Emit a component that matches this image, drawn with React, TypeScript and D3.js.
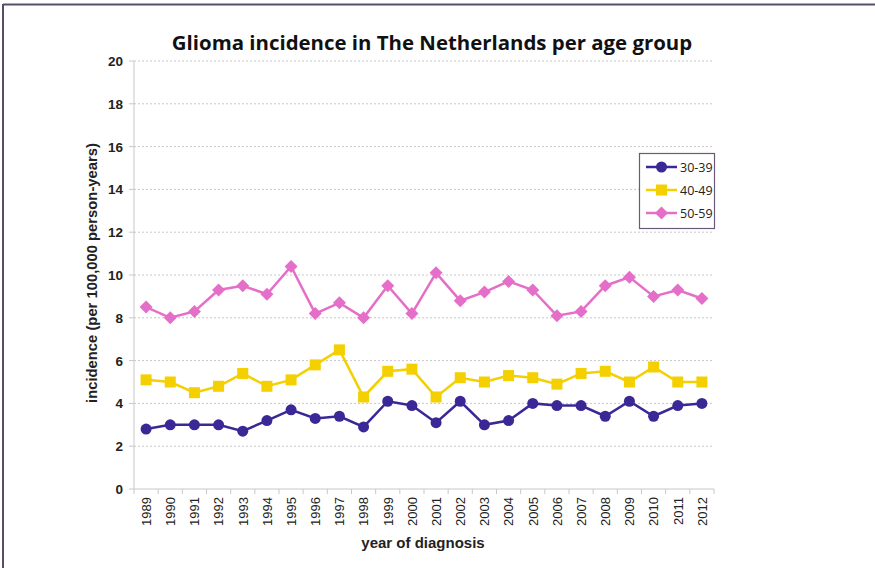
import React from "react";
import * as d3 from "d3";

const years = ["1989","1990","1991","1992","1993","1994","1995","1996","1997","1998","1999","2000","2001","2002","2003","2004","2005","2006","2007","2008","2009","2010","2011","2012"];
const age3039 = [2.8,3.0,3.0,3.0,2.7,3.2,3.7,3.3,3.4,2.9,4.1,3.9,3.1,4.1,3.0,3.2,4.0,3.9,3.9,3.4,4.1,3.4,3.9,4.0];
const age4049 = [5.1,5.0,4.5,4.8,5.4,4.8,5.1,5.8,6.5,4.3,5.5,5.6,4.3,5.2,5.0,5.3,5.2,4.9,5.4,5.5,5.0,5.7,5.0,5.0];
const age5059 = [8.5,8.0,8.3,9.3,9.5,9.1,10.4,8.2,8.7,8.0,9.5,8.2,10.1,8.8,9.2,9.7,9.3,8.1,8.3,9.5,9.9,9.0,9.3,8.9];
const yTicks = [0,2,4,6,8,10,12,14,16,18,20];
const seriesNames = ["30-39","40-49","50-59"];

const series = [
  { name: seriesNames[0], values: age3039, color: "#3b2896", marker: "circle" },
  { name: seriesNames[1], values: age4049, color: "#f4d000", marker: "square" },
  { name: seriesNames[2], values: age5059, color: "#e46ec8", marker: "diamond" },
];

function Marker({ type, x, y, color }: { type: string; x: number; y: number; color: string }) {
  if (type === "circle") return <circle cx={x} cy={y} r={5.5} fill={color} />;
  if (type === "square") return <rect x={x - 5.5} y={y - 5.5} width={11} height={11} fill={color} />;
  const s = 6.5;
  return <path d={`M${x},${y - s}L${x + s},${y}L${x},${y + s}L${x - s},${y}Z`} fill={color} />;
}

export default function App() {
  const W = 875, H = 568;
  const left = 134, right = 714, top = 61, bottom = 489;
  const x = d3.scaleBand().domain(years).range([left, right]);
  const y = d3.scaleLinear().domain([0, 20]).range([bottom, top]);
  const cx = (d: string) => (x(d) as number) + x.bandwidth() / 2;
  const line = d3.line<number>().x((_, i) => cx(years[i])).y((v) => y(v));
  const axisFont = "Liberation Sans, Arial, sans-serif";

  return (
    <svg width={W} height={H} style={{ position: "absolute", left: 0, top: 0, background: "#fff" }}>
      <rect x={0} y={0} width={W} height={H} fill="#fff" />
      <line x1={3} y1={4.5} x2={875} y2={4.5} stroke="#5a4d66" strokeWidth={2} />
      <line x1={3} y1={4} x2={3} y2={568} stroke="#5a4d66" strokeWidth={2} />
      <text x={432} y={50} textAnchor="middle" fontFamily="Open Sans, sans-serif" fontWeight="bold" fontSize={20.4} fill="#111">
        Glioma incidence in The Netherlands per age group
      </text>
      {yTicks.map((t) => (
        <g key={t}>
          {t > 0 && (
            <line x1={left} x2={right} y1={y(t)} y2={y(t)} stroke="#c8c8c8" strokeWidth={1} strokeDasharray="2,2" />
          )}
          <line x1={left - 5} x2={left} y1={y(t)} y2={y(t)} stroke="#c8c8c8" />
          <text x={123} y={y(t) + 5} textAnchor="end" fontFamily={axisFont} fontWeight="bold" fontSize={13.5} fill="#222">
            {t}
          </text>
        </g>
      ))}
      <line x1={left} x2={left} y1={top} y2={bottom} stroke="#c8c8c8" />
      <line x1={left} x2={right} y1={bottom} y2={bottom} stroke="#c8c8c8" />
      {years.map((yr, i) => (
        <g key={yr}>
          <line x1={left + i * x.bandwidth()} x2={left + i * x.bandwidth()} y1={bottom} y2={bottom + 5} stroke="#c8c8c8" />
          <text
            transform={`translate(${cx(yr) + 4.8},${497}) rotate(-90)`}
            textAnchor="end"
            fontFamily={axisFont}
            fontSize={13}
            fill="#222"
          >
            {yr}
          </text>
        </g>
      ))}
      <line x1={right} x2={right} y1={bottom} y2={bottom + 5} stroke="#c8c8c8" />
      <text x={423} y={548} textAnchor="middle" fontFamily={axisFont} fontWeight="bold" fontSize={15} fill="#222">
        year of diagnosis
      </text>
      <text
        transform={`translate(97,${273}) rotate(-90)`}
        textAnchor="middle"
        fontFamily={axisFont}
        fontWeight="bold"
        fontSize={14.8}
        fill="#222"
      >
        incidence (per 100,000 person-years)
      </text>
      {series.map((s) => (
        <g key={s.name}>
          <path d={line(s.values) || ""} fill="none" stroke={s.color} strokeWidth={2.5} />
          {s.values.map((v, i) => (
            <Marker key={i} type={s.marker} x={cx(years[i])} y={y(v)} color={s.color} />
          ))}
        </g>
      ))}
      <rect x={639.5} y={153.5} width={75} height={75} fill="#fff" stroke="#6a5a78" strokeWidth={1.2} />
      {series.map((s, i) => {
        const ly = 167 + i * 23;
        return (
          <g key={s.name}>
            <line x1={646} x2={677} y1={ly} y2={ly} stroke={s.color} strokeWidth={2.5} />
            <Marker type={s.marker} x={661.5} y={ly} color={s.color} />
            <text x={680} y={ly + 4.5} fontFamily="Open Sans, sans-serif" fontSize={12.5} fill="#222">
              {s.name}
            </text>
          </g>
        );
      })}
    </svg>
  );
}
